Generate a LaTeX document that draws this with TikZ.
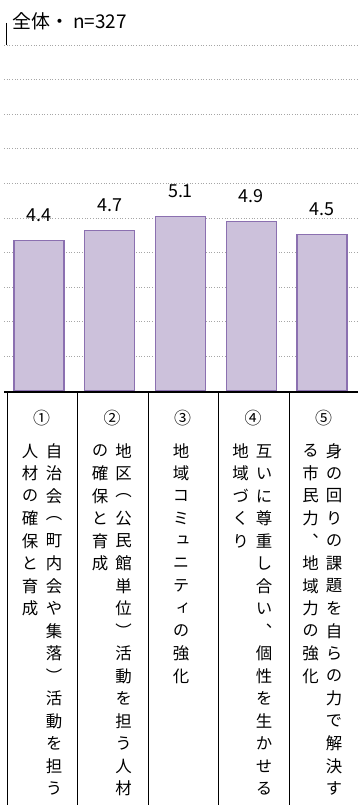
\documentclass[tikz,border=0pt]{standalone}
\usepackage{fontspec}
\setmainfont{Noto Sans CJK JP}
\newfontfamily\tatefont[RawFeature=+vert]{Noto Sans CJK JP}
\usetikzlibrary{positioning, calc}

\begin{document}
\begin{tikzpicture}[x=1bp, y=-1bp,
        grid/.style={draw=gridgray, dotted, line width=0.7bp},
        bar/.style={draw=barline, fill=barfill, line width=1.4bp, minimum width=50bp, inner sep=0pt, anchor=south},
        vallbl/.style={font=\fontsize{18}{18}\selectfont, inner sep=0pt, anchor=base},
        tate/.style={font=\tatefont\fontsize{16.5}{16.5}\selectfont, inner sep=0pt}]
        % Colours
        \definecolor{barfill}{RGB}{204, 193, 219}
        \definecolor{barline}{RGB}{139, 112, 176}
        \definecolor{gridgray}{RGB}{166, 166, 166}

        \useasboundingbox (0,0) rectangle (358,805);

        % Title top left
        \node[anchor=base west, inner sep=0pt, font=\fontsize{19}{19}\selectfont] (title) at (12, 29) {全体・ n=327};
        \draw[line width=0.8bp] (6, 23) -- (6, 45);

        % 1. Dotted gridlines (0..10, top one at 10)
        \foreach \g in {0,...,9}
            \draw[grid] (4, 45+\g*34.6) -- (358, 45+\g*34.6);

        % 2. Bars and values
        \foreach \val/\ytop [count=\i from 0] in {4.4/241, 4.7/231, 5.1/217, 4.9/222, 4.5/235} {
            \node[bar, minimum height={(391-\ytop)*1bp}] (bar\i) at (39+\i*70.75, 391) {};
            \node[vallbl] (val\i) at (39+\i*70.75, \ytop-20) {\val};
        }

        % 3. Axis and table columns
        \draw[line width=2bp] (4, 391.5) -- (358, 391.5);
        \foreach \k in {0,...,4}
            \draw[line width=1bp] (7+\k*70.5, 392) -- (7+\k*70.5, 805);

        % 4. Circled numbers
        \foreach \num [count=\i from 0] in {①,②,③,④,⑤}
            \node[tate, font=\tatefont\fontsize{17}{17}\selectfont] (num\i) at (41.5+\i*70.5, 418) {\num};

        % 5. Vertical labels (right line first, then left line)
        % column 1
        \foreach \ch [count=\k from 0] in {自,治,会,︵,町,内,会,や,集,落,︶,活,動,を,担,う}
            \node[tate] (c1r\k) at (54, 451+\k*22.5) {\ch};
        \foreach \ch [count=\k from 0] in {人,材,の,確,保,と,育,成}
            \node[tate] (c1l\k) at (30, 451+\k*22.5) {\ch};
        % column 2
        \foreach \ch [count=\k from 0] in {地,区,︵,公,民,館,単,位,︶,活,動,を,担,う,人,材}
            \node[tate] (c2r\k) at (123.5, 451+\k*22.5) {\ch};
        \foreach \ch [count=\k from 0] in {の,確,保,と,育,成}
            \node[tate] (c2l\k) at (100, 451+\k*22.5) {\ch};
        % column 3
        \foreach \ch [count=\k from 0] in {地,域,コ,ミ,ュ,ニ,テ,ィ,の,強,化}
            \node[tate] (c3r\k) at (181, 451+\k*22.5) {\ch};
        % column 4
        \foreach \ch [count=\k from 0] in {互,い,に,尊,重,し,合,い,︑,個,性,を,生,か,せ,る}
            \node[tate] (c4r\k) at (264, 451+\k*22.5) {\ch};
        \foreach \ch [count=\k from 0] in {地,域,づ,く,り}
            \node[tate] (c4l\k) at (240.5, 451+\k*22.5) {\ch};
        % column 5
        \foreach \ch [count=\k from 0] in {身,の,回,り,の,課,題,を,自,ら,の,力,で,解,決,す}
            \node[tate] (c5r\k) at (334, 451+\k*22.5) {\ch};
        \foreach \ch [count=\k from 0] in {る,市,民,力,︑,地,域,力,の,強,化}
            \node[tate] (c5l\k) at (310.5, 451+\k*22.5) {\ch};

    \end{tikzpicture}
\end{document}
